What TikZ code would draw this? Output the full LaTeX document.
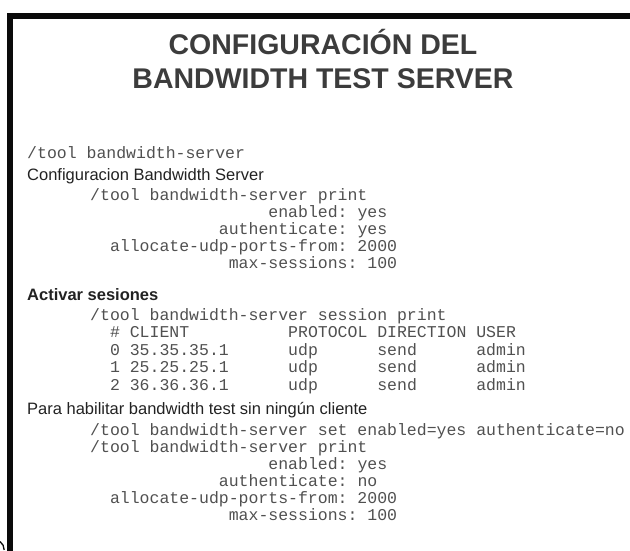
\documentclass[tikz,border=0pt]{standalone}
\usepackage{fontspec}
\setmainfont{Liberation Sans}
\setmonofont{Liberation Mono}

\definecolor{framecol}{HTML}{0A0A0A}
\definecolor{titlecol}{HTML}{3C3C3C}
\definecolor{headcol}{HTML}{222222}
\definecolor{codecol}{HTML}{505050}

\newcommand\ttlfont{\fontsize{28.5}{30}\selectfont\bfseries}
\newcommand\hdfont{\fontsize{16.5}{18}\selectfont}
\newcommand\cdfont{\fontsize{16.5}{18}\selectfont\ttfamily}

\begin{document}
\begin{tikzpicture}[x=1pt, y=-1pt,
  titletext/.style={anchor=base, inner sep=0pt, font=\ttlfont, text=titlecol},
  headtext/.style={anchor=base west, inner sep=0pt, font=\hdfont, text=headcol},
  boldhead/.style={headtext, font=\hdfont\bfseries},
  codetext/.style={anchor=base west, inner sep=0pt, font=\cdfont, text=codecol},
  framerule/.style={draw=framecol, line width=6pt, line join=miter}]

\useasboundingbox (0,0) rectangle (630,550);

% page frame (top and left edges)
\coordinate (fbot) at (10.3,552);
\coordinate (fcorner) at (10.3,15.5);
\coordinate (fright) at (632,15.5);
\draw[framerule] (fbot) -- (fcorner) -- (fright);

% small stray mark in the lower left corner
\coordinate (ma) at (0,541.5);
\coordinate (mb) at (4.2,550);
\draw[framecol, line width=1.3pt] (ma) .. controls (2.8,543.5) and (4,546.5) .. (mb);

% title
\node[titletext] (t1) at (323,54.5) {CONFIGURACIÓN DEL};
\node[titletext] (t2) at (323,88.5) {BANDWIDTH TEST SERVER};

\def\lx{27}
\def\ind{90}
\def\cw{9.9}

% block 1
\node[codetext] (c0) at (\lx,158) {/tool bandwidth-server};
\node[headtext] (h1) at (\lx,180) {Configuracion Bandwidth Server};
\node[codetext] (p1) at (\ind,200) {/tool bandwidth-server print};
\node[codetext] (p1a) at ({\ind+18*\cw},217) {enabled: yes};
\node[codetext] (p1b) at ({\ind+13*\cw},234) {authenticate: yes};
\node[codetext] (p1c) at ({\ind+2*\cw},251) {allocate-udp-ports-from: 2000};
\node[codetext] (p1d) at ({\ind+14*\cw},268) {max-sessions: 100};

% block 2
\node[boldhead] (h2) at (\lx,300) {Activar sesiones};
\node[codetext] (s0) at (\ind,320) {/tool bandwidth-server session print};
\node[codetext] (sh1) at ({\ind+2*\cw},337.5) {\# CLIENT};
\node[codetext] (sh2) at ({\ind+20*\cw},337.5) {PROTOCOL};
\node[codetext] (sh3) at ({\ind+29*\cw},337.5) {DIRECTION};
\node[codetext] (sh4) at ({\ind+39*\cw},337.5) {USER};
\node[codetext] (r0a) at ({\ind+2*\cw},355) {0 35.35.35.1};
\node[codetext] (r0b) at ({\ind+20*\cw},355) {udp};
\node[codetext] (r0c) at ({\ind+29*\cw},355) {send};
\node[codetext] (r0d) at ({\ind+39*\cw},355) {admin};
\node[codetext] (r1a) at ({\ind+2*\cw},372.5) {1 25.25.25.1};
\node[codetext] (r1b) at ({\ind+20*\cw},372.5) {udp};
\node[codetext] (r1c) at ({\ind+29*\cw},372.5) {send};
\node[codetext] (r1d) at ({\ind+39*\cw},372.5) {admin};
\node[codetext] (r2a) at ({\ind+2*\cw},390) {2 36.36.36.1};
\node[codetext] (r2b) at ({\ind+20*\cw},390) {udp};
\node[codetext] (r2c) at ({\ind+29*\cw},390) {send};
\node[codetext] (r2d) at ({\ind+39*\cw},390) {admin};

% block 3
\node[headtext] (h3) at (\lx,414) {Para habilitar bandwidth test sin ningún cliente};
\node[codetext] (q0) at (\ind,435) {/tool bandwidth-server set enabled=yes authenticate=no};
\node[codetext] (q1) at (\ind,452) {/tool bandwidth-server print};
\node[codetext] (q1a) at ({\ind+18*\cw},469) {enabled: yes};
\node[codetext] (q1b) at ({\ind+13*\cw},486) {authenticate: no};
\node[codetext] (q1c) at ({\ind+2*\cw},503) {allocate-udp-ports-from: 2000};
\node[codetext] (q1d) at ({\ind+14*\cw},520) {max-sessions: 100};

\end{tikzpicture}
\end{document}
